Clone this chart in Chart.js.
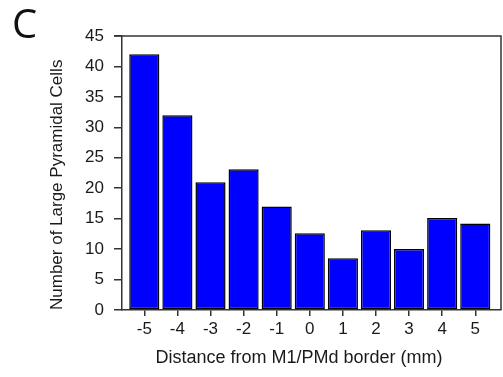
<!DOCTYPE html>
<html>
<head>
<meta charset="utf-8">
<script src="https://cdn.jsdelivr.net/npm/chart.js@4.4.1/dist/chart.umd.min.js"></script>
<style>
    body { margin: 0; background: #ffffff; }
    #wrap { position: relative; width: 503px; height: 377px; }
    #panel {
        position: absolute; left: 12px; top: -5px;
        font-family: "Open Sans", sans-serif; font-size: 40px; color: #111;
    }
</style>
</head>
<body>
<div id="wrap">
    <canvas id="pyramidalChart" width="503" height="377"></canvas>
    <div id="panel">C</div>
</div>
<script>
// Large pyramidal cell counts by distance from the M1/PMd border

const distances = [-5, -4, -3, -2, -1, 0, 1, 2, 3, 4, 5];
const cellCounts = [42, 32, 21, 23.1, 17, 12.6, 8.5, 13.1, 10, 15.1, 14.2];
const yTicks = [0, 5, 10, 15, 20, 25, 30, 35, 40, 45];

const axisColor = "#333333";
const textColor = "#1a1a1a";

// Draw the top and right edges of the plot box
const frameBox = {
    id: "frameBox",
    afterDraw(chart) {
        const { ctx, chartArea } = chart;
        ctx.save();
        ctx.strokeStyle = axisColor;
        ctx.lineWidth = 1.5;
        ctx.beginPath();
        ctx.moveTo(chartArea.left - 8, chartArea.top);
        ctx.lineTo(chartArea.right, chartArea.top);
        ctx.lineTo(chartArea.right, chartArea.bottom);
        ctx.stroke();
        ctx.restore();
    },
};

const ctx = document.getElementById("pyramidalChart");

new Chart(ctx, {
    type: "bar",
    data: {
        datasets: [
            {
                data: distances.map((d, i) => ({ x: d, y: cellCounts[i] })),
                backgroundColor: "#0000ff",
                borderColor: "#000000",
                borderWidth: 1.5,
                borderSkipped: false,
                barPercentage: 0.91,
                categoryPercentage: 1,
            },
        ],
    },
    options: {
        responsive: false,
        animation: false,
        layout: {
            padding: { top: 36, right: 2, left: 0, bottom: 0 },
        },
        plugins: {
            legend: { display: false },
            tooltip: { enabled: false },
        },
        scales: {
            x: {
                type: "linear",
                min: -5.674,
                max: 5.777,
                offset: false,
                afterBuildTicks(scale) {
                    scale.ticks = distances.map((v) => ({ value: v }));
                },
                afterFit(scale) {
                    scale.height = 67;
                },
                ticks: {
                    color: textColor,
                    font: { family: "Liberation Sans", size: 17 },
                    padding: 3,
                    maxRotation: 0,
                },
                grid: {
                    offset: false,
                    drawOnChartArea: false,
                    tickLength: 6,
                    color: axisColor,
                    lineWidth: 1.5,
                },
                border: { color: axisColor, width: 1.5 },
                title: {
                    display: true,
                    // trailing spaces nudge the centred title a little left
                    text: "Distance from M1/PMd border (mm)     ",
                    color: textColor,
                    font: { family: "Liberation Sans", size: 18 },
                    padding: { top: 0, bottom: 8 },
                },
            },
            y: {
                min: 0,
                max: 45,
                afterBuildTicks(scale) {
                    scale.ticks = yTicks.map((v) => ({ value: v }));
                },
                afterFit(scale) {
                    scale.width = 122;
                },
                ticks: {
                    color: textColor,
                    font: { family: "Liberation Sans", size: 17 },
                    padding: 10,
                },
                grid: {
                    drawOnChartArea: false,
                    tickLength: 8,
                    color: axisColor,
                    lineWidth: 1.5,
                },
                border: { color: axisColor, width: 1.5 },
                title: {
                    display: true,
                    align: "start",
                    text: "Number of Large Pyramidal Cells",
                    color: textColor,
                    font: { family: "Liberation Sans", size: 17 },
                    padding: { top: 47, bottom: 0 },
                },
            },
        },
    },
    plugins: [frameBox],
});
</script>
</body>
</html>
